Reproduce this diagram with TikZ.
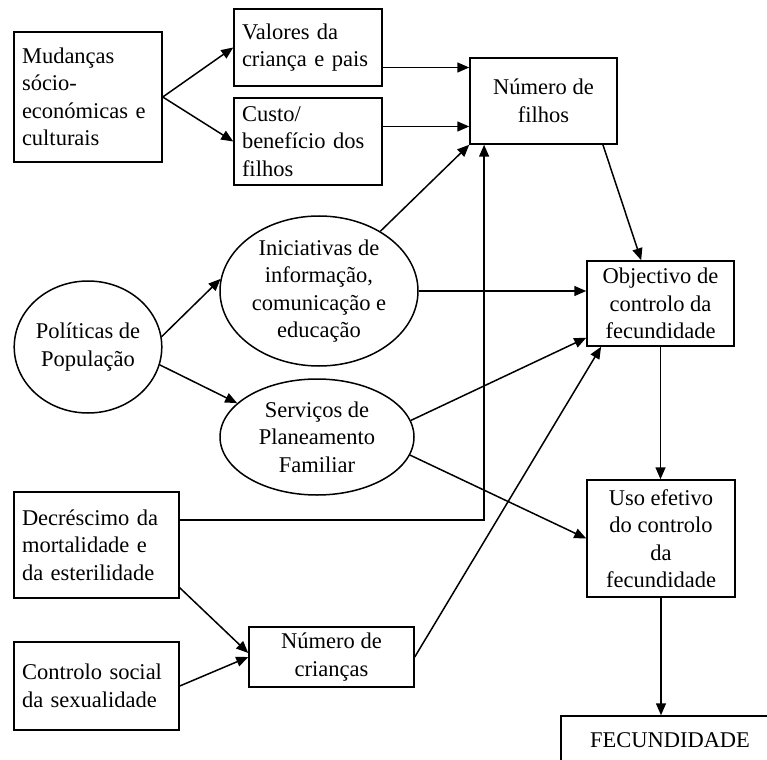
\documentclass[tikz,border=0pt]{standalone}
\usepackage{fontspec}
\setmainfont{Liberation Serif}
\usetikzlibrary{shapes.geometric, arrows.meta, calc}

\tikzset{
	lbl/.style = {font=\fontsize{22.5}{27.5}\selectfont},
	box/.style = {lbl, draw, line width=1.5pt, align=center, inner sep=0pt},
	lbox/.style = {box, align=left, inner xsep=8pt},
	oval/.style = {lbl, draw, line width=1.5pt, ellipse, align=center, inner sep=0pt},
	arr/.style = {-{Triangle[length=12pt,width=10pt]}, line width=1.5pt}
}

\begin{document}
\begin{tikzpicture}[x=1pt, y=-1pt]
		\useasboundingbox (0,0) rectangle (767,759);
		\clip (0,0) rectangle (767,759);
		
		\node (mud) at (88,97) [lbox, text width=132pt, minimum height=130pt] {Mudanças\\sócio-\\económicas e\\culturais};
		\node (val) at (308,47.5) [lbox, text width=132pt, minimum height=77pt] {Valores da\\criança e pais};
		\node (custo) at (308,141.5) [lbox, text width=132pt, minimum height=87pt] {Custo/\\benefício dos\\filhos};
		\node (nfil) at (543.5,101) [box, minimum width=147pt, minimum height=86pt] {Número de\\filhos};
		
		\node (pol) at (88,347) [oval, minimum width=146pt, minimum height=132pt] {Políticas de\\População};
		\node (ini) at (319,291) [oval, minimum width=198pt, minimum height=150pt] {Iniciativas de\\informação,\\comunicação e\\educação};
		\node (serv) at (317,437) [oval, minimum width=194pt, minimum height=116pt] {Serviços de\\Planeamento\\Familiar};
		
		\node (obj) at (660.5,303.5) [box, minimum width=147pt, minimum height=85pt] {Objectivo de\\controlo da\\fecundidade};
		\node (uso) at (661,538.5) [box, minimum width=148pt, minimum height=117pt] {Uso efetivo\\do controlo\\da\\fecundidade};
		
		\node (dec) at (96.5,545) [lbox, text width=149pt, minimum height=106pt] {Decréscimo da\\mortalidade e\\da esterilidade};
		\node (ctrl) at (96.5,686) [lbox, text width=149pt, minimum height=88pt] {Controlo social\\da sexualidade};
		\node (ncri) at (331.5,657) [box, minimum width=165pt, minimum height=60pt] {Número de\\crianças};
		
		\node (fec) at (670,740) [box, minimum width=218pt, minimum height=48pt] {FECUNDIDADE};
		
		\draw [arr] (mud.east) -- (val.west);
		\draw [arr] (mud.east) -- (custo.west);
		\draw [arr] ([yshift=-20pt]val.east) -- ([yshift=-20pt]val.east -| nfil.west);
		\draw [arr] ([yshift=15pt]custo.east) -- ([yshift=15pt]custo.east -| nfil.west);
		
		\draw [arr] (pol.8) -- (ini.173);
		\draw [arr] (pol.-14) -- (serv.157);
		
		\draw [arr] (ini) -- (nfil.south west);
		\draw [arr] (ini.east) -- (ini.east -| obj.west);
		\draw [arr] ($(nfil.south)!0.8!(nfil.south east)$) -- ($(obj.north west)!0.37!(obj.north east)$);
		\draw [arr] ([yshift=25pt]dec.east) -| ($(nfil.south west)!0.1!(nfil.south east)$);
		
		\draw [arr] (serv.10) -- ($(obj.south west)+(0,-9)$);
		\draw [arr] (serv.-11) -- (uso.west);
		
		\draw [arr] ([yshift=11pt]dec.south east) -- ([yshift=4pt]ncri.west);
		\draw [arr] (ctrl.east) -- (ncri.west);
		\draw [arr] (ncri.east) -- ($(obj.south west)!0.1!(obj.south east)$);
		
		\draw [arr] (obj.south) -- (obj.south |- uso.north);
		\draw [arr] (uso.south) -- (uso.south |- fec.north);
\end{tikzpicture}
\end{document}
